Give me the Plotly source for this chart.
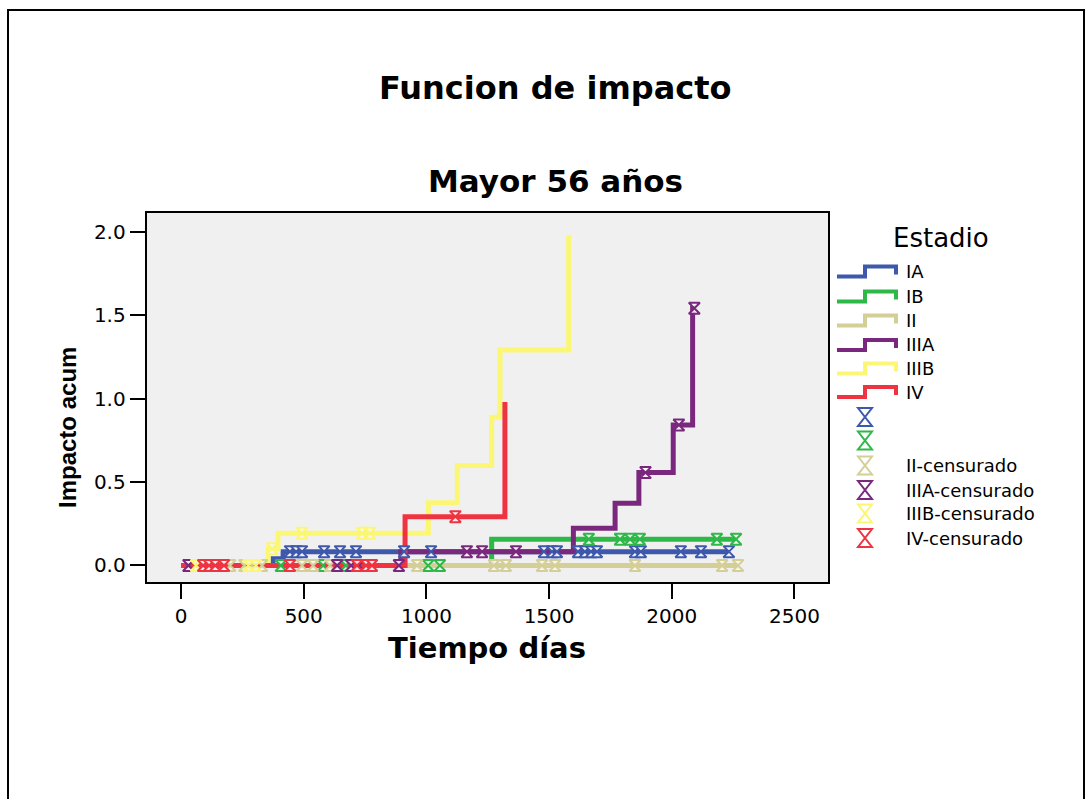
import numpy as np
import plotly.graph_objects as go

# Estadio groups, colours
groups = ["IA", "IB", "II", "IIIA", "IIIB", "IV"]
colors = ["#3e58ab", "#2eb848", "#d4ce97", "#7a287d", "#fbf774", "#ef3340"]

# Event times (days) and cumulative hazard after each event
event_t = {
    "IA":   [375, 416],
    "IB":   [1266],
    "II":   [],
    "IIIA": [896, 1599, 1769, 1866, 2006, 2085],
    "IIIB": [355, 395, 1008, 1126, 1266, 1300, 1580],
    "IV":   [913, 1320],
}
event_h = {
    "IA":   [0.04, 0.083],
    "IB":   [0.157],
    "II":   [],
    "IIIA": [0.083, 0.223, 0.373, 0.557, 0.843, 1.543],
    "IIIB": [0.10, 0.193, 0.377, 0.599, 0.889, 1.292, 1.98],
    "IV":   [0.293, 0.98],
}
# Censored times (days)
cens_t = {
    "IA":   [444, 469, 493, 583, 648, 713, 909, 1019, 1479, 1512, 1532, 1618,
             1646, 1671, 1695, 1850, 1874, 2037, 2119, 2233],
    "IB":   [407, 579, 672, 1007, 1055, 1662, 1789, 1830, 1870, 2184, 2262],
    "II":   [200, 258, 290, 330, 493, 538, 607, 962, 1275, 1324, 1471, 1524,
             1850, 2205, 2270],
    "IIIA": [30, 636, 693, 725, 888, 1165, 1227, 1365, 1893, 2029, 2092],
    "IIIB": [61, 275, 305, 371, 493, 738, 770],
    "IV":   [90, 114, 139, 175, 444, 717, 754, 778, 1118],
}
# Last follow-up time of each curve
end_t = {"IA": 2233, "IB": 2262, "II": 2270, "IIIA": 2092, "IIIB": 1580, "IV": 1320}

x_ticks = [0, 500, 1000, 1500, 2000, 2500]
y_ticks = [0.0, 0.5, 1.0, 1.5, 2.0]
y_ticktext = ["0.0", "0.5", "1.0", "1.5", "2.0"]

legend_labels = groups + ["", "", "II-censurado", "IIIA-censurado",
                          "IIIB-censurado", "IV-censurado"]

W, H = 1089, 799
FONT = "DejaVu Sans"


def px(x):
    return x / W


def py(y):
    return 1 - y / H


def step_value(times, hazards, t):
    idx = np.searchsorted(np.asarray(times), t, side="right")
    return 0.0 if idx == 0 else hazards[idx - 1]


fig = go.Figure()

# cumulative hazard step curves
for g, c in zip(groups, colors):
    xs = [0] + list(event_t[g])
    ys = [0.0] + list(event_h[g])
    if end_t[g] > xs[-1]:
        xs.append(end_t[g])
        ys.append(ys[-1])
    fig.add_trace(go.Scatter(
        x=xs, y=ys, mode="lines", line=dict(color=c, width=5, shape="hv"),
        showlegend=False, hoverinfo="skip"))

# censored observations
for g, c in zip(groups, colors):
    ct = cens_t[g]
    cy = [step_value(event_t[g], event_h[g], t) for t in ct]
    fig.add_trace(go.Scatter(
        x=ct, y=cy, mode="markers",
        marker=dict(symbol="hourglass", size=11, color="rgba(245,245,245,0.9)",
                    line=dict(color=c, width=2)),
        showlegend=False, hoverinfo="skip"))

# legend: step icons, hourglass symbols and labels (pixel positions)
shapes = []
LX0, LXS, LX1 = 837, 865, 896
row_y = [271.5, 296.5, 320.5, 345, 368.5, 392]
for c, yy in zip(colors, row_y):
    pts = [(LX0, yy + 5), (LXS, yy + 5), (LXS, yy - 5), (LX1, yy - 5), (LX1, yy + 3)]
    path = "M " + " L ".join(f"{px(a):.5f},{py(b):.5f}" for a, b in pts)
    shapes.append(dict(type="path", xref="paper", yref="paper", path=path,
                       line=dict(color=c, width=4)))
cens_row_y = [417, 440.5, 465.5, 490, 513.5, 538]
MX, MW, MH = 865, 7, 9
for c, yy in zip(colors, cens_row_y):
    pts = [(MX - MW, yy - MH), (MX + MW, yy - MH), (MX - MW, yy + MH), (MX + MW, yy + MH)]
    path = "M " + " L ".join(f"{px(a):.5f},{py(b):.5f}" for a, b in pts) + " Z"
    shapes.append(dict(type="path", xref="paper", yref="paper", path=path,
                       line=dict(color=c, width=2), fillcolor="white"))

annotations = []
for lab, yy in zip(legend_labels, row_y + cens_row_y):
    if lab:
        annotations.append(dict(
            x=px(904), y=py(yy), xref="paper", yref="paper", text=lab,
            showarrow=False, xanchor="left", yanchor="middle",
            font=dict(family=FONT, size=18, color="black")))
annotations.append(dict(
    x=px(941), y=py(238), xref="paper", yref="paper", text="Estadio",
    showarrow=False, xanchor="center", yanchor="middle",
    font=dict(family=FONT, size=26, color="black")))

# titles
annotations += [
    dict(x=px(555), y=py(88), xref="paper", yref="paper",
         text="<b>Funcion de impacto</b>", showarrow=False,
         xanchor="center", yanchor="middle",
         font=dict(family=FONT, size=32, color="black")),
    dict(x=px(555), y=py(181), xref="paper", yref="paper",
         text="<b>Mayor 56 años</b>", showarrow=False,
         xanchor="center", yanchor="middle",
         font=dict(family=FONT, size=31, color="black")),
    dict(x=px(487), y=py(648), xref="paper", yref="paper",
         text="<b>Tiempo días</b>", showarrow=False,
         xanchor="center", yanchor="middle",
         font=dict(family=FONT, size=29, color="black")),
    dict(x=px(67), y=py(428), xref="paper", yref="paper",
         text="<b>Impacto acum</b>", showarrow=False, textangle=-90,
         xanchor="center", yanchor="middle",
         font=dict(family="Liberation Sans", size=24, color="black")),
]

# outer frame
shapes.append(dict(type="rect", xref="paper", yref="paper",
                   x0=px(8), x1=px(1084), y0=-0.05, y1=py(10),
                   line=dict(color="black", width=2), fillcolor="rgba(0,0,0,0)",
                   layer="above"))

axis_common = dict(showgrid=False, zeroline=False, showline=True, linewidth=2,
                   linecolor="black", mirror=True, ticks="outside", ticklen=15,
                   tickwidth=2, tickcolor="black",
                   tickfont=dict(family=FONT, size=20, color="black"))

fig.update_layout(
    width=W, height=H, margin=dict(l=0, r=0, t=0, b=0),
    paper_bgcolor="white", plot_bgcolor="#f0f0f0",
    xaxis=dict(domain=[px(146.7), px(828.3)], range=[-140, 2638],
               tickvals=x_ticks, **axis_common),
    yaxis=dict(domain=[py(582), py(213)], range=[-0.099, 2.114],
               tickvals=y_ticks, ticktext=y_ticktext, **axis_common),
    annotations=annotations,
    shapes=shapes,
    showlegend=False,
)

fig.write_html("out.html")
